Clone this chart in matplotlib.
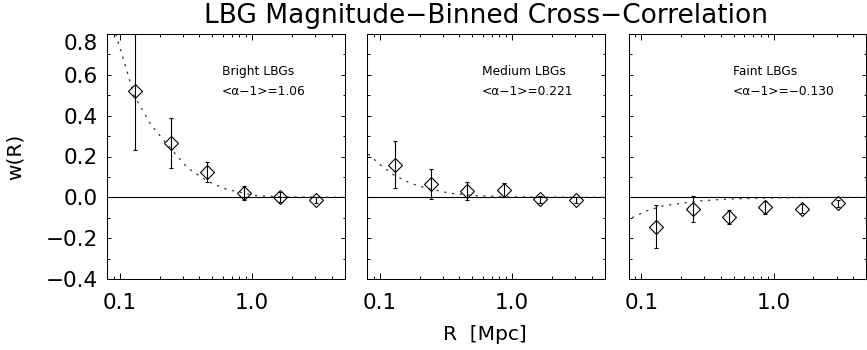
import matplotlib
matplotlib.use("Agg")
import matplotlib.pyplot as plt
from matplotlib.ticker import FixedLocator, FixedFormatter, LogLocator, MultipleLocator, NullFormatter

plt.rcParams['font.family'] = ['DejaVu Sans']

# separations (Mpc), shared by all three bins
R = [0.130, 0.244, 0.458, 0.866, 1.63, 3.07]

bright_w = [0.523, 0.268, 0.125, 0.021, 0.000, -0.015]
bright_err = [0.290, 0.122, 0.050, 0.035, 0.025, 0.015]
medium_w = [0.159, 0.064, 0.031, 0.036, -0.010, -0.013]
medium_err = [0.115, 0.074, 0.044, 0.033, 0.018, 0.015]
faint_w = [-0.143, -0.057, -0.095, -0.049, -0.057, -0.030]
faint_err = [0.107, 0.065, 0.034, 0.031, 0.022, 0.015]

# dotted model curves
bright_fit_R = [0.093, 0.111, 0.128, 0.171, 0.216, 0.324, 0.458, 0.648, 1.09, 1.72, 5.0]
bright_fit_w = [0.800, 0.638, 0.499, 0.358, 0.277, 0.145, 0.079, 0.038, 0.008, 0.002, 0.0]
medium_fit_R = [0.0816, 0.101, 0.127, 0.170, 0.228, 0.340, 0.540, 0.970, 5.0]
medium_fit_w = [0.212, 0.159, 0.110, 0.069, 0.044, 0.020, 0.008, 0.002, 0.0]
faint_fit_R = [0.085, 0.110, 0.147, 0.196, 0.293, 0.466, 0.785, 1.60, 5.0]
faint_fit_w = [-0.100, -0.066, -0.041, -0.030, -0.016, -0.008, -0.004, -0.001, 0.0]

names = ["Bright LBGs", "Medium LBGs", "Faint LBGs"]
slopes = ["1.06", "0.221", "\u22120.130"]
x_ticks = [0.1, 1.0]
x_tick_labels = ["0.1", "1.0"]
y_ticks = [-0.4, -0.2, 0.0, 0.2, 0.4, 0.6, 0.8]
y_tick_labels = ["\u22120.4", "\u22120.2", "0.0", "0.2", "0.4", "0.6", "0.8"]

panels = [
    (bright_w, bright_err, bright_fit_R, bright_fit_w),
    (medium_w, medium_err, medium_fit_R, medium_fit_w),
    (faint_w, faint_err, faint_fit_R, faint_fit_w),
]
lefts = [107 / 867, 367 / 867, 628.5 / 867]
text_x = [0.483, 0.485, 0.44]

fig = plt.figure(figsize=(8.67, 3.5), dpi=100)

for i, (w, err, fit_R, fit_w) in enumerate(panels):
    ax = fig.add_axes([lefts[i], 1 - 279 / 350, 237.5 / 867, 245 / 350])
    ax.set_xscale("log")
    ax.set_xlim(0.08, 5.0)
    ax.set_ylim(-0.4, 0.8)

    ax.axhline(0, color="black", lw=0.8)
    ax.plot(fit_R, fit_w, color="#333333", lw=0.9, dashes=(1.8, 4.5))
    ax.errorbar(R, w, yerr=err, fmt="D", ms=6.8, mfc="none", mec="black",
                mew=0.8, ecolor="black", elinewidth=0.8, capsize=1.2, capthick=1.2)

    ax.text(text_x[i], 0.847, names[i], transform=ax.transAxes, fontsize=8.8, va="center")
    ax.text(text_x[i], 0.767, "<\u03b1\u22121>=" + slopes[i], transform=ax.transAxes,
            fontsize=8.8, va="center")

    ax.xaxis.set_major_locator(FixedLocator(x_ticks))
    ax.xaxis.set_major_formatter(FixedFormatter(x_tick_labels))
    ax.xaxis.set_minor_locator(LogLocator(base=10, subs=range(2, 10)))
    ax.xaxis.set_minor_formatter(NullFormatter())
    ax.yaxis.set_major_locator(FixedLocator(y_ticks))
    ax.yaxis.set_minor_locator(MultipleLocator(0.1))

    ax.tick_params(which="both", direction="in", top=True, right=True, width=0.7)
    ax.tick_params(axis="x", which="major", length=4.3, pad=10, labelsize=15.5)
    ax.tick_params(axis="x", which="minor", length=2.5)
    ax.tick_params(axis="y", which="major", length=3.2, pad=6.7, labelsize=15.5)
    ax.tick_params(axis="y", which="minor", length=1.8)
    for sp in ax.spines.values():
        sp.set_linewidth(0.75)

    if i == 0:
        ax.yaxis.set_major_formatter(FixedFormatter(y_tick_labels))
        ax.get_yticklabels()[-1].set_va("top")
    else:
        ax.yaxis.set_major_formatter(NullFormatter())

fig.text(486 / 867, 1 - 16 / 350, "LBG Magnitude\u2212Binned Cross\u2212Correlation",
         fontsize=19, ha="center", va="center")
fig.text(485 / 867, 1 - 334 / 350, "R  [Mpc]", fontsize=14.5, ha="center", va="center")
fig.text(15 / 867, 1 - 157 / 350, "w(R)", fontsize=14.5, rotation=90, ha="center", va="center")

fig.savefig("out.png", dpi=100)
